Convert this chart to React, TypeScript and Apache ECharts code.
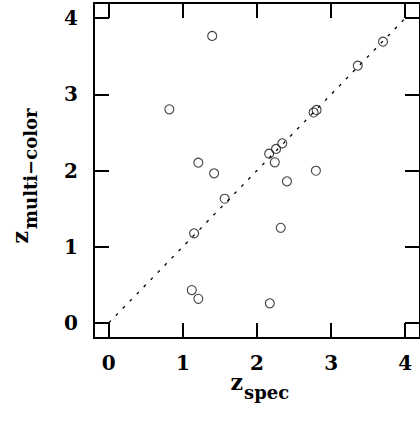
import React, { useEffect, useRef } from "react";
import * as echarts from "echarts";

const zSpec = [1.395, 0.817, 1.208, 1.421, 1.564, 1.151, 1.12, 1.208, 2.173, 2.32, 2.404, 2.795, 2.164, 2.257, 2.341, 2.24, 2.764, 2.804, 3.36, 3.701];
const zMulti = [3.768, 2.804, 2.103, 1.963, 1.629, 1.175, 0.43, 0.315, 0.255, 1.248, 1.858, 1.997, 2.221, 2.283, 2.357, 2.108, 2.762, 2.795, 3.377, 3.692];
const tickValues = [0, 1, 2, 3, 4];
const oneToOne = [[0, 0], [4, 4]];

const FONT = "DejaVu Serif";

export default function App() {
  const ref = useRef<HTMLDivElement>(null);
  useEffect(() => {
    const chart = echarts.init(ref.current!, null, { renderer: "svg" });
    const axisBase = (pos: string, showLabel: boolean, isX: boolean) => ({
      type: "value",
      position: pos,
      min: -0.2,
      max: 4.2,
      axisLine: { show: true, onZero: false, lineStyle: { color: "#000", width: 2 } },
      axisTick: {
        show: true,
        inside: true,
        length: 15,
        customValues: tickValues,
        lineStyle: { color: "#000", width: 2 },
      },
      axisLabel: {
        show: showLabel,
        customValues: tickValues,
        fontFamily: FONT,
        fontSize: 20,
        fontWeight: "bold",
        color: "#000",
        margin: isX ? 15 : 16,
      },
      splitLine: { show: false },
    });
    chart.setOption({
      animation: false,
      grid: { left: 94, top: 3, width: 330, height: 335 },
      xAxis: [axisBase("bottom", true, true), axisBase("top", false, true)],
      yAxis: [axisBase("left", true, false), axisBase("right", false, false)],
      series: [
        {
          type: "line",
          data: oneToOne,
          symbol: "none",
          lineStyle: { color: "#000", width: 1.3, type: [3, 7] },
          silent: true,
        },
        {
          type: "scatter",
          data: zSpec.map((x, i) => [x, zMulti[i]]),
          symbol: "circle",
          symbolSize: 9,
          itemStyle: { color: "transparent", borderColor: "#111", borderWidth: 1.1 },
        },
      ],
      graphic: [
        {
          type: "text",
          x: 243,
          y: 382,
          style: { text: "z", font: `bold 22px "${FONT}"`, fill: "#000", textAlign: "right", textVerticalAlign: "middle" },
        },
        {
          type: "text",
          x: 244,
          y: 392,
          style: { text: "spec", font: `bold 18px "${FONT}"`, fill: "#000", textAlign: "left", textVerticalAlign: "middle" },
        },
        {
          type: "text",
          x: 20,
          y: 231,
          rotation: Math.PI / 2,
          style: { text: "z", font: `bold 22px "${FONT}"`, fill: "#000", textAlign: "right", textVerticalAlign: "middle" },
        },
        {
          type: "text",
          x: 30,
          y: 229,
          rotation: Math.PI / 2,
          style: { text: "multi\u2212color", font: `bold 18px "${FONT}"`, fill: "#000", textAlign: "left", textVerticalAlign: "middle" },
        },
      ],
    });
    return () => chart.dispose();
  }, []);
  return (
    <div
      ref={ref}
      style={{ position: "fixed", left: 0, top: 0, width: 420, height: 423, background: "#fff" }}
    />
  );
}
